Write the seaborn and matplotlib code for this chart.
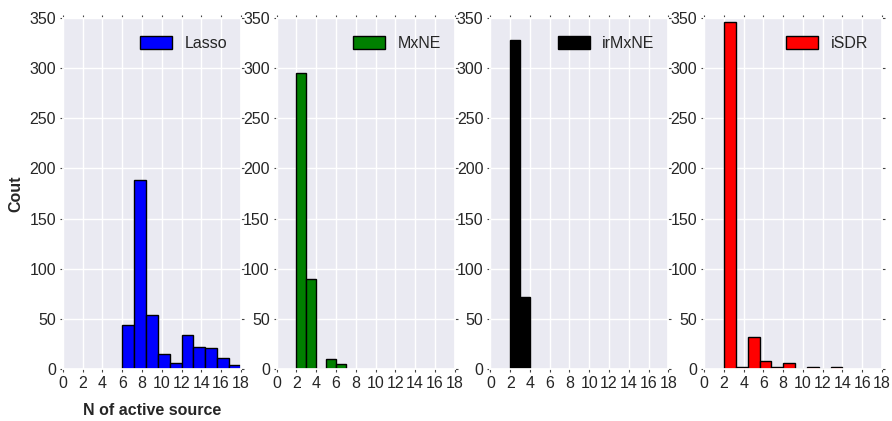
import numpy as np
import pandas as pd
import matplotlib
matplotlib.use('Agg')
import matplotlib.pyplot as plt
from matplotlib.patches import Patch
import seaborn as sns

# Methods and histogram counts (400 trials each)
methods = ['Lasso', 'MxNE', 'irMxNE', 'iSDR']
colors = ['#0000ff', '#008000', '#000000', '#ff0000']

lasso_edges = np.linspace(6, 18, 11)
lasso_counts = [44, 189, 54, 15, 6, 34, 22, 21, 11, 4]

mxne_edges = np.arange(2, 8, 1)
mxne_counts = [295, 90, 0, 10, 5]

irmxne_edges = np.arange(2, 5, 1)
irmxne_counts = [328, 72]

isdr_edges = np.linspace(2, 14, 11)
isdr_counts = [346, 2, 32, 8, 2, 6, 0, 2, 0, 2]

all_edges = [lasso_edges, mxne_edges, irmxne_edges, isdr_edges]
all_counts = [lasso_counts, mxne_counts, irmxne_counts, isdr_counts]

sns.set_theme(style='darkgrid')
plt.rcParams['font.family'] = ['Liberation Sans', 'DejaVu Sans']

fig, axes = plt.subplots(1, 4, figsize=(8.92, 4.21), dpi=100)
fig.subplots_adjust(left=0.0706, right=0.9888, bottom=0.1235, top=0.957, wspace=0.202)

for ax, name, col, edges, counts in zip(axes, methods, colors, all_edges, all_counts):
    df = pd.DataFrame({'center': (edges[:-1] + edges[1:]) / 2, 'count': counts})
    sns.histplot(data=df, x='center', weights='count', bins=list(edges), color=col,
                 alpha=1, edgecolor='black', linewidth=1, ax=ax)
    ax.set_xlim(0, 18)
    ax.set_ylim(0, 350)
    ax.set_xticks(np.arange(0, 19, 2))
    ax.set_yticks(np.arange(0, 351, 50))
    ax.tick_params(labelsize=11.5, length=2, width=0.8, color='#444444', labelcolor='#262626',
                   direction='out', pad=3, top=True, right=True, bottom=True, left=True)
    ax.set_xlabel('')
    ax.set_ylabel('')
    ax.legend(handles=[Patch(facecolor=col, edgecolor='black', label=name)],
              loc='upper right', bbox_to_anchor=(1.0, 0.989), frameon=False, fontsize=11.5,
              handlelength=2.0, handleheight=0.9, borderaxespad=0.45)

axes[0].set_ylabel('Cout', fontsize=11.5, fontweight='bold')
axes[0].set_xlabel('N of active source', fontsize=11.5, fontweight='bold', labelpad=9)

plt.savefig('out.png', dpi=100)
plt.close()
